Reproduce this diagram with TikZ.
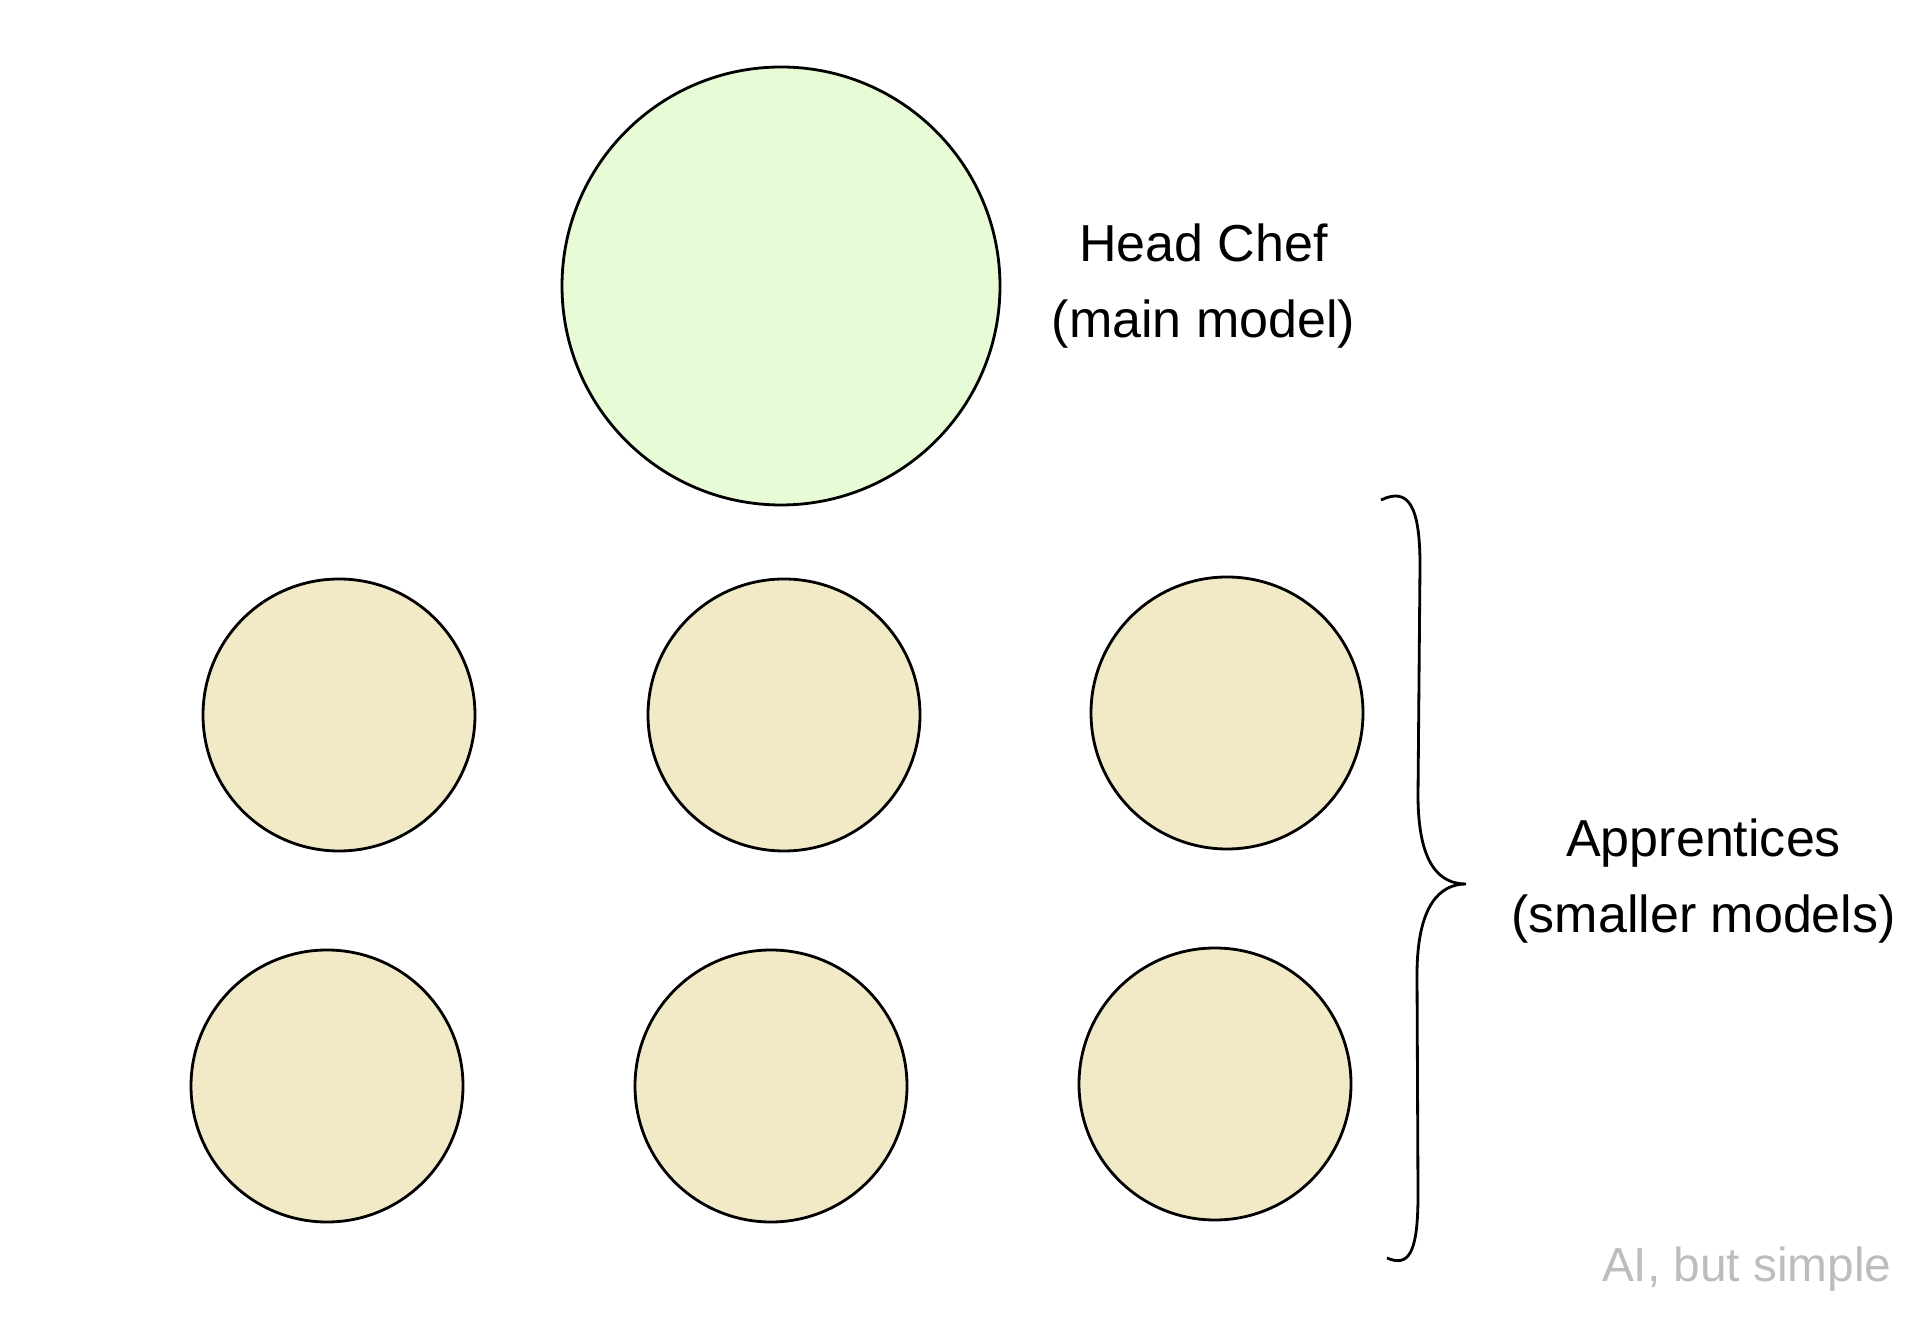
\documentclass[tikz,border=0pt]{standalone}
\usepackage{fontspec}
\setmainfont{Liberation Sans}
\usetikzlibrary{positioning}
\definecolor{chefgreen}{HTML}{E6FBD6}
\definecolor{apptan}{HTML}{F2EAC6}
\definecolor{markgrey}{HTML}{BDBDBD}
\tikzset{
  every picture/.style={line width=0.8pt},
  chef/.style={circle, draw=black, fill=chefgreen, minimum size=4.38cm, inner sep=0pt},
  apprentice/.style={circle, draw=black, fill=apptan, minimum size=2.72cm, inner sep=0pt},
  note/.style={font=\fontsize{14.8}{21.5}\selectfont, align=center, inner sep=0pt},
  signature/.style={font=\fontsize{13.6}{16}\selectfont, text=markgrey, inner sep=0pt},
}

\begin{document}
\begin{tikzpicture}
  \useasboundingbox (0,0) rectangle (19.2,13.25);
  % head chef
  \node[chef] (chef) at (7.81,10.39) {};
  \node[note, right=0.49cm of chef] (cheflbl) {Head Chef\\(main model)};
  % apprentices
  \node[apprentice] (a1) at (3.39,6.10) {};
  \node[apprentice] (a2) at (7.84,6.10) {};
  \node[apprentice] (a3) at (12.27,6.12) {};
  \node[apprentice] (a4) at (3.27,2.39) {};
  \node[apprentice] (a5) at (7.71,2.39) {};
  \node[apprentice] (a6) at (12.15,2.41) {};
  % brace
  \coordinate (btop) at (13.81,8.25);
  \coordinate (btip) at (14.66,4.41);
  \coordinate (bbot) at (13.87,0.67);
  \draw (btop) .. controls (14.08,8.38) and (14.2,8.2) .. (14.2,7.6)
        -- (14.18,5.3) .. controls (14.18,4.6) and (14.4,4.41) .. (btip)
        .. controls (14.4,4.41) and (14.17,4.2) .. (14.17,3.5)
        -- (14.18,1.3) .. controls (14.18,0.7) and (14.08,0.58) .. (bbot);
  \node[note, right=0.44cm of btip, yshift=0.03cm] (applbl) {Apprentices\\(smaller models)};
  \node[signature, anchor=east] (sig) at (18.93,0.56) {AI, but simple};
\end{tikzpicture}
\end{document}
